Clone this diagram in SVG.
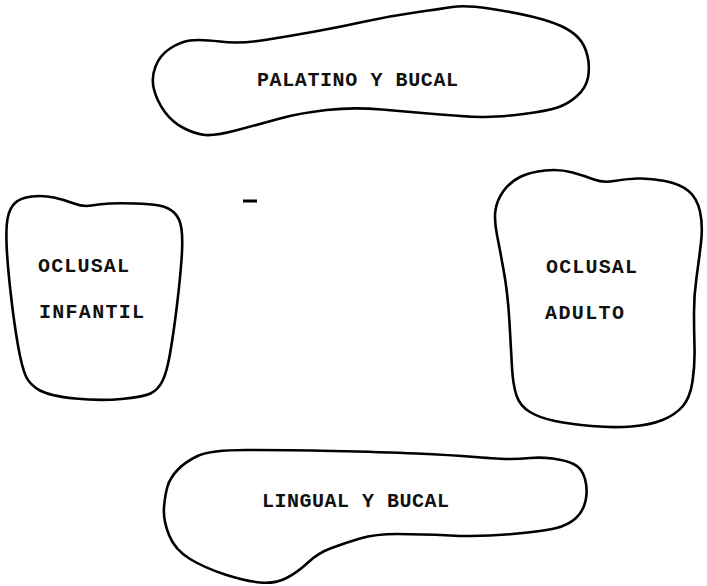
<svg xmlns="http://www.w3.org/2000/svg" width="707" height="586" viewBox="0 0 707 586">
<style>
.shape{fill:none;stroke:#000;stroke-width:2.6;stroke-linejoin:round;stroke-linecap:round}
.lbl{font-family:"Liberation Mono","Courier New",monospace;font-weight:bold;font-size:20px;fill:#111}
</style>
<rect width="707" height="586" fill="#fff"/>
<g id="palatino-bucal">
<path class="shape" d="M 170,48.5 Q 180,42 190,40.5 Q 200,39 220,41.5 Q 240,44 265,40 Q 290,36 315,31.5 Q 340,27 365,21.5 Q 390,16 415,12.5 Q 440,9 452.5,7 Q 465,5 489,8.5 Q 513,12 531.5,16.5 Q 550,21 561,26 Q 572,31 578.5,38 Q 585,45 587.5,56 Q 590,67 588,77.5 Q 586,88 577,96 Q 568,104 557.5,107.5 Q 547,111 523.5,114 Q 500,117 485,117 Q 470,117 440,114.5 Q 410,112 381.5,109.5 Q 353,107 326.5,110 Q 300,113 280,118.5 Q 260,124 237.5,130 Q 215,136 205,135 Q 195,134 183.5,128 Q 172,122 164.5,111.5 Q 157,101 154,89.5 Q 151,78 155.5,66.5 Q 160,55 170,48.5 Z"/>
<text class="lbl" x="257" y="86" textLength="201" lengthAdjust="spacing">PALATINO Y BUCAL</text>
</g>
<g id="oclusal-infantil">
<path class="shape" d="M 15,203 Q 20,198 31.5,196.5 Q 43,195 54,197.5 Q 65,200 74,203.5 Q 83,207 91.5,205.5 Q 100,204 110,203.5 Q 120,203 135,203.5 Q 150,204 159,205.5 Q 168,207 174,212.5 Q 180,218 181.5,229 Q 183,240 181.5,260 Q 180,280 177,305 Q 174,330 170.5,351 Q 167,372 162.5,381 Q 158,390 150.5,393.5 Q 143,397 121.5,399 Q 100,401 75,398.5 Q 50,396 40,390.5 Q 30,385 26,376.5 Q 22,368 18,345.5 Q 14,323 10.5,291.5 Q 7,260 6.5,242.5 Q 6,225 8,216.5 Q 10,208 15,203 Z"/>
<text class="lbl" x="38" y="272" textLength="91" lengthAdjust="spacing">OCLUSAL</text>
<text class="lbl" x="39" y="318" textLength="105" lengthAdjust="spacing">INFANTIL</text>
</g>
<g id="oclusal-adulto">
<path class="shape" d="M 503.5,191 Q 510,182 520,177 Q 530,172 545,170.5 Q 560,169 572.5,172.5 Q 585,176 594,179.5 Q 603,183 614,181 Q 625,179 637.5,178.5 Q 650,178 665,181 Q 680,184 688.5,191 Q 697,198 700,211.5 Q 703,225 701,242.5 Q 699,260 696.5,277.5 Q 694,295 694,312.5 Q 694,330 694.5,347.5 Q 695,365 692.5,381.5 Q 690,398 682.5,406.5 Q 675,415 662.5,420 Q 650,425 631.5,426.5 Q 613,428 591.5,426 Q 570,424 555,421 Q 540,418 530,412 Q 520,406 516.5,395.5 Q 513,385 512,367.5 Q 511,350 509.5,322.5 Q 508,295 504,272.5 Q 500,250 497,235 Q 494,220 495.5,210 Q 497,200 503.5,191 Z"/>
<text class="lbl" x="546" y="273" textLength="91" lengthAdjust="spacing">OCLUSAL</text>
<text class="lbl" x="545" y="319" textLength="79" lengthAdjust="spacing">ADULTO</text>
</g>
<g id="lingual-bucal">
<path class="shape" d="M 177.5,470 Q 185,462 197.5,456 Q 210,450 246.5,450 Q 283,450 333,451 Q 383,452 416.5,453.5 Q 450,455 475,457 Q 500,459 510,459 Q 520,459 530,458 Q 540,457 552.5,458.5 Q 565,460 573.5,464 Q 582,468 585,479 Q 588,490 585.5,501 Q 583,512 575.5,518.5 Q 568,525 556.5,528 Q 545,531 512.5,534 Q 480,537 450,535.5 Q 420,534 397.5,534 Q 375,534 360,538.5 Q 345,543 331.5,548 Q 318,553 308,562.5 Q 298,572 286.5,578 Q 275,584 260,582.5 Q 245,581 225,574.5 Q 205,568 190,559 Q 175,550 169,535 Q 163,520 164,507.5 Q 165,495 167.5,486.5 Q 170,478 177.5,470 Z"/>
<text class="lbl" x="262" y="507" textLength="187" lengthAdjust="spacing">LINGUAL Y BUCAL</text>
</g>
<g id="connectors">
<line x1="243" y1="201" x2="257" y2="201" stroke="#000" stroke-width="3"/>
</g>
</svg>
